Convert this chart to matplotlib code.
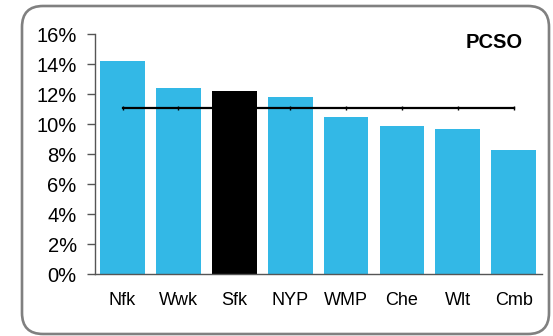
import matplotlib
matplotlib.use("Agg")
import matplotlib.pyplot as plt
from matplotlib.patches import FancyBboxPatch

categories = ["Nfk", "Wwk", "Sfk", "NYP", "WMP", "Che", "Wlt", "Cmb"]
values = [14.2, 12.4, 12.2, 11.8, 10.45, 9.9, 9.7, 8.3]
average = [11.1] * len(categories)
highlight = "Sfk"
title = "PCSO"
yticks = [0, 2, 4, 6, 8, 10, 12, 14, 16]

plt.rcParams['font.family'] = ['Liberation Sans', 'DejaVu Sans']

W, H = 553, 336
fig = plt.figure(figsize=(W / 100, H / 100), dpi=100)

# background with rounded border (pixel coordinates)
bg = fig.add_axes([0, 0, 1, 1], zorder=0)
bg.set_xlim(0, W)
bg.set_ylim(H, 0)
bg.axis('off')
bg.add_patch(FancyBboxPatch((22, 6), 527, 328,
                            boxstyle="round,pad=0,rounding_size=21",
                            fc='white', ec='#808080', lw=1.9))

ax = fig.add_axes([94.7 / W, 1 - 274 / H, (541.5 - 94.7) / W, (274 - 34) / H], zorder=1)
ax.patch.set_alpha(0)
x = list(range(len(categories)))
colors = ['#000000' if c == highlight else '#33B8E6' for c in categories]
ax.bar(x, values, width=0.8, color=colors, zorder=2)
ax.plot(x, average, color='black', lw=1.6, marker='|', ms=3, mew=1, zorder=3)

ax.set_xlim(-0.5, len(categories) - 0.5)
ax.set_ylim(0, 16)
ax.set_yticks(yticks)
ax.set_yticklabels([f"{v}%" for v in yticks], fontsize=14.5)
ax.set_xticks(x)
ax.set_xticklabels(categories, fontsize=13)
ax.tick_params(axis='x', length=0, pad=13)
ax.tick_params(axis='y', length=6, width=1, color='#555555', pad=7)
for s in ['top', 'right']:
    ax.spines[s].set_visible(False)
for s in ['left', 'bottom']:
    ax.spines[s].set_color('#555555')
    ax.spines[s].set_linewidth(1)

fig.text(523 / W, 1 - 43 / H, title, fontsize=14.5, fontweight='bold',
         ha='right', va='center')

fig.savefig("out.png", dpi=100)
